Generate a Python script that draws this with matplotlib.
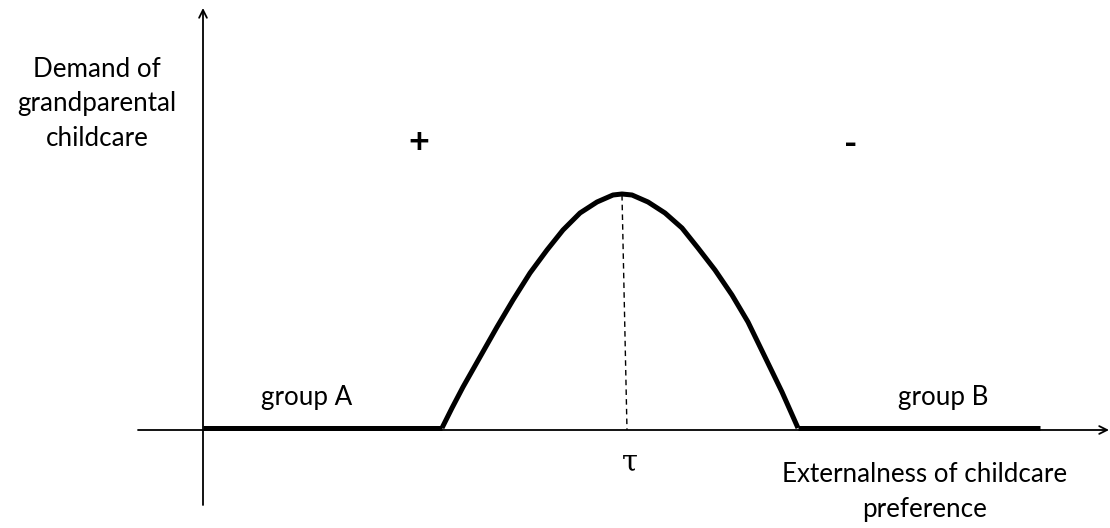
import matplotlib
matplotlib.use("Agg")
import matplotlib.pyplot as plt

# Values (pixel-like coordinates, y grows downward)
flat_a_x = [203, 442]
flat_b_x = [798, 1040]
flat_y = 428
curve_x = [442, 452, 463, 480, 497, 513, 530, 547, 563, 580, 597, 613, 622,
           632, 648, 665, 682, 698, 715, 732, 748, 765, 782, 798]
curve_y = [428, 408, 387, 357, 327, 300, 273, 250, 230, 213, 202, 195, 194,
           195, 202, 213, 228, 248, 270, 295, 322, 357, 392, 428]
tau_x = [622, 627]
tau_y = [195, 430]

ylabel_lines = ["Demand of", "grandparental", "childcare"]
xlabel_lines = ["Externalness of childcare", "preference"]
group_labels = ["group A", "group B"]
tau_label = "τ"
sign_labels = ["+", "-"]

plt.rcParams['font.family'] = ['Lato', 'DejaVu Sans']

fig = plt.figure(figsize=(11.10, 5.28), dpi=100)
ax = fig.add_axes([0, 0, 1, 1])
ax.set_xlim(0, 1110)
ax.set_ylim(528, 0)
ax.axis('off')

# axis arrows
ax.annotate("", xy=(203, 8), xytext=(203, 505),
            arrowprops=dict(arrowstyle="->", lw=1.3, color="black",
                            mutation_scale=14, shrinkA=0, shrinkB=0))
ax.annotate("", xy=(1109, 430), xytext=(138, 430),
            arrowprops=dict(arrowstyle="->", lw=1.3, color="black",
                            mutation_scale=14, shrinkA=0, shrinkB=0))

# demand curve
ax.plot(flat_a_x, [flat_y, flat_y], color="black", lw=3.6, solid_capstyle="butt")
ax.plot(flat_b_x, [flat_y, flat_y], color="black", lw=3.6, solid_capstyle="butt")
ax.plot(curve_x, curve_y, color="black", lw=3.6, solid_joinstyle="round",
        solid_capstyle="butt")
ax.plot(tau_x, tau_y, color="black", lw=1.0, linestyle=(0, (4, 3)))

fs = 18.7
for line, yb in zip(ylabel_lines, [77, 111.5, 146]):
    ax.text(97, yb, line, ha="center", va="baseline", fontsize=fs)
for line, yb in zip(xlabel_lines, [482, 517]):
    ax.text(925, yb, line, ha="center", va="baseline", fontsize=fs)
for lab, xc in zip(group_labels, [307, 943]):
    ax.text(xc, 405, lab, ha="center", va="baseline", fontsize=fs)
ax.text(630, 470, tau_label, ha="center", va="baseline", fontsize=21,
        family=['DejaVu Serif'])
for lab, xc, yc in zip(sign_labels, [419, 851], [143, 144]):
    ax.text(xc, yc, lab, ha="center", va="center", fontsize=26,
            fontweight="bold")

fig.savefig("out.png", dpi=100)
